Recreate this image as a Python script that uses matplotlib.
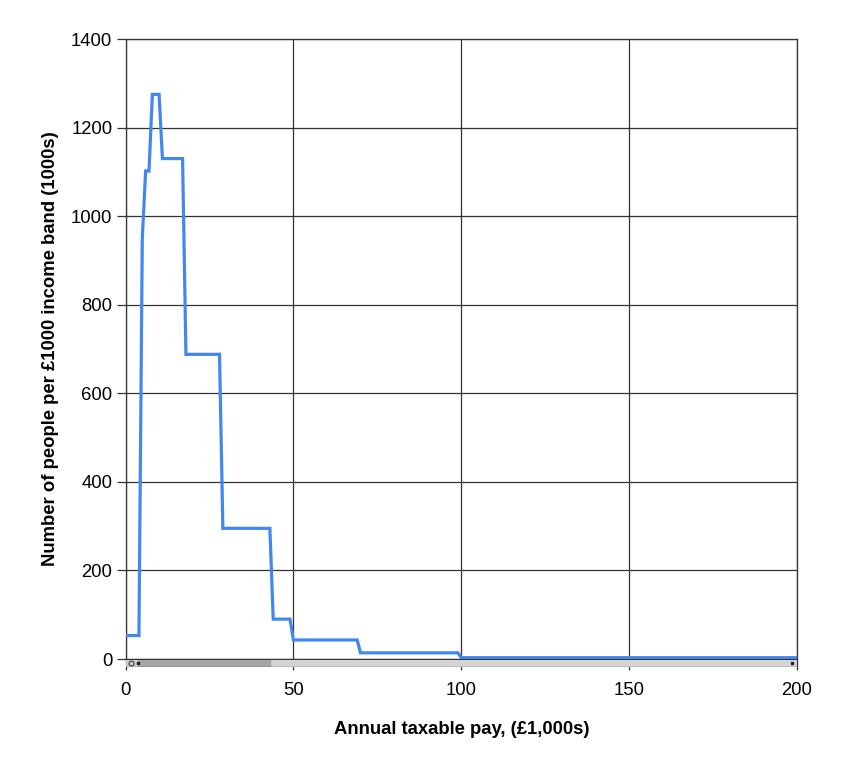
import numpy as np
import matplotlib.pyplot as plt
from matplotlib.patches import Rectangle

plt.rcParams['font.family'] = ['Liberation Sans', 'DejaVu Sans']

# ── Données ───────────────────────────────────────────────
pay = [0, 4, 5, 6, 7, 8, 10, 11, 17, 18, 28, 29, 43, 44, 49, 50,
       69, 70, 99, 100, 200]
people = [53, 53, 950, 1102, 1102, 1275, 1275, 1130, 1130, 688, 688,
          295, 295, 90, 90, 43, 43, 14, 14, 3, 3]

x_ticks = [0, 50, 100, 150, 200]
y_ticks = [0, 200, 400, 600, 800, 1000, 1200, 1400]

# ── Figure ────────────────────────────────────────────────
W, H = 847, 768
fig = plt.figure(figsize=(W / 100, H / 100), dpi=100)
left, right, top, bottom = 125.5, 797, 39, 659
ax = fig.add_axes([left / W, 1 - bottom / H, (right - left) / W, (bottom - top) / H])

ax.plot(pay, people, color='#4287f0', lw=2.3, solid_joinstyle='miter', zorder=3)

ax.set_xlim(0, 200)
ax.set_ylim(0, 1400)
ax.set_xticks(x_ticks)
ax.set_yticks(y_ticks)
ax.grid(True, color='#333333', lw=0.9)
for s in ax.spines.values():
    s.set_color('#333333')
    s.set_linewidth(0.9)
ax.tick_params(axis='x', length=8, width=0.9, color='#333333', pad=8.5, labelsize=13.3)
ax.tick_params(axis='y', length=6.5, width=0.9, color='#333333', pad=3, labelsize=13.3)

ax.set_xlabel('Annual taxable pay, (£1,000s)', fontsize=13.3, fontweight='bold', labelpad=16)
ax.set_ylabel('Number of people per £1000 income band (1000s)', fontsize=13.3,
              fontweight='bold', labelpad=8.5)

# ── Barre de défilement sous le graphique ─────────────────
sb = fig.add_axes([left / W, 1 - 667 / H, (right - left) / W, 7.5 / H])
sb.set_xlim(0, right - left)
sb.set_ylim(0, 1)
sb.axis('off')
sb.add_patch(Rectangle((0, 0), right - left, 1, color='#d4d4d4'))
sb.add_patch(Rectangle((12, 0.05), 132, 0.9, color='#a6a6a6'))
sb.add_patch(Rectangle((0, 0), 11, 1, color='#c8c8c8'))
sb.plot([5.5], [0.5], marker='o', ms=3.5, mfc='none', mec='#444444', mew=0.8)
sb.plot([12.5], [0.5], marker='s', ms=2.0, color='#222222')
sb.plot([right - left - 5], [0.5], marker='s', ms=2.0, color='#222222')
sb.plot([0, right - left], [0, 0], color='#555555', lw=1.0)

plt.savefig('out.png', dpi=100)
